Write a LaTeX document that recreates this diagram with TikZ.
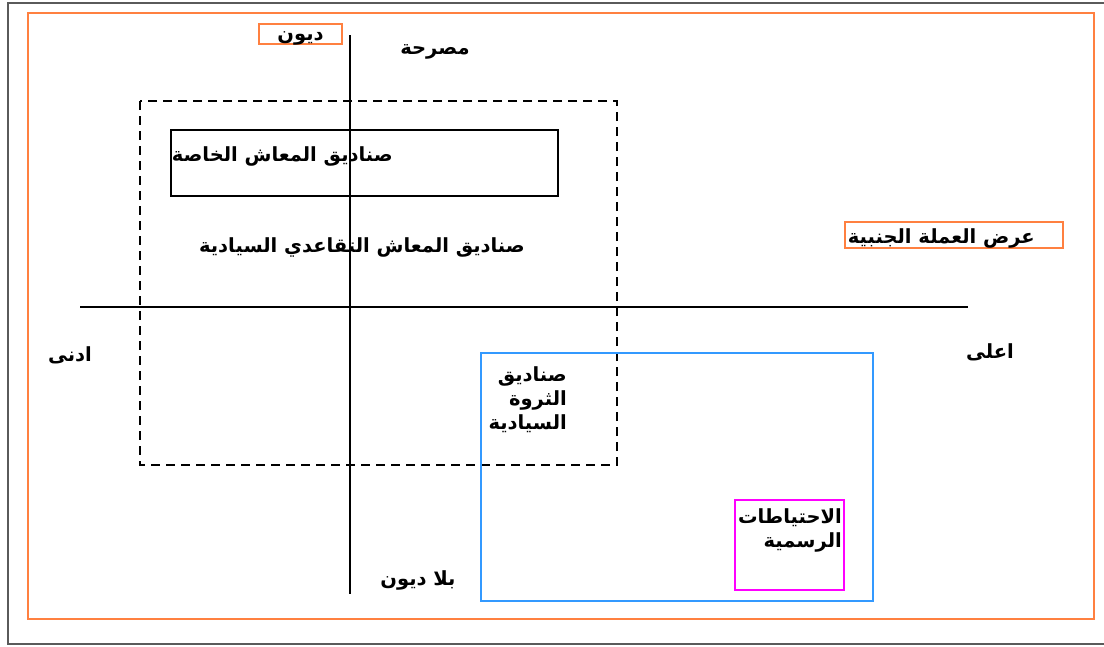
\documentclass[tikz,border=0pt]{standalone}
\usepackage{fontspec}
\newfontfamily\arabicfont[Script=Arabic]{DejaVu Sans}
\TeXXeTstate=1
\definecolor{frameorange}{RGB}{255,128,64}
\definecolor{boxblue}{RGB}{51,153,255}
\definecolor{boxmagenta}{RGB}{255,0,255}
\definecolor{framegray}{RGB}{90,90,90}
\tikzset{
  ar/.style={font=\arabicfont\bfseries\fontsize{19.5}{24}\selectfont, inner sep=0pt, yshift=-3pt},
  axisline/.style={draw=black, line width=1.3pt},
  tagbox/.style={draw=frameorange, line width=1.4pt, fill=white},
}
\begin{document}
\begin{tikzpicture}[x=1pt,y=-1pt]
\useasboundingbox (0,0) rectangle (1104,646);
% outer frame
\draw[framegray, line width=1.5pt] (1104,3) -- (8,3) -- (8,644) -- (1104,644);
\draw[frameorange, line width=1.8pt] (28,13) rectangle (1094,619);
% axes
\coordinate (vtop) at (350,35);
\coordinate (vbot) at (350,594);
\coordinate (hleft) at (80,307);
\coordinate (hright) at (968,307);
\draw[axisline] (vtop) -- (vbot);
\draw[axisline] (hleft) -- (hright);
% dashed region
\draw[black, line width=1.1pt, dash pattern=on 9pt off 6pt] (140,101) rectangle (617,465);
% private pension box
\draw[black, line width=1.1pt] (171,130) rectangle (558,196);
\node[ar, anchor=east] (private) at (393,153) {\beginR صناديق المعاش الخاصة\endR};
\node[ar] (sovpension) at (362,244) {\beginR صناديق المعاش التقاعدي السيادية\endR};
% blue box
\draw[boxblue, line width=1.5pt] (481,353) rectangle (873,601);
\node[ar, anchor=north east, align=right] (swf) at (567,363) {\beginR صناديق\endR\\\beginR الثروة\endR\\\beginR السيادية\endR};
% magenta box
\draw[boxmagenta, line width=1.3pt] (735,500) rectangle (844,590);
\node[ar, anchor=north east, align=right] (reserves) at (842,505) {\beginR الاحتياطات\endR\\\beginR الرسمية\endR};
% tags
\node[tagbox, minimum width=83pt, minimum height=20pt] (debt) at (300.5,34) {};
\node[ar, yshift=-1pt] at (debt.center) {\beginR ديون\endR};
\node[ar, yshift=-1pt] (declared) at (435,48) {\beginR مصرحة\endR};
\node[tagbox, minimum width=218pt, minimum height=26pt] (fx) at (954,235) {};
\node[ar, anchor=east] at (1035,235) {\beginR عرض العملة الجنبية\endR};
\node[ar] (low) at (70,352) {\beginR ادنى\endR};
\node[ar] (high) at (990,349) {\beginR اعلى\endR};
\node[ar] (nodebt) at (418,577) {\beginR بلا ديون\endR};
\end{tikzpicture}
\end{document}
